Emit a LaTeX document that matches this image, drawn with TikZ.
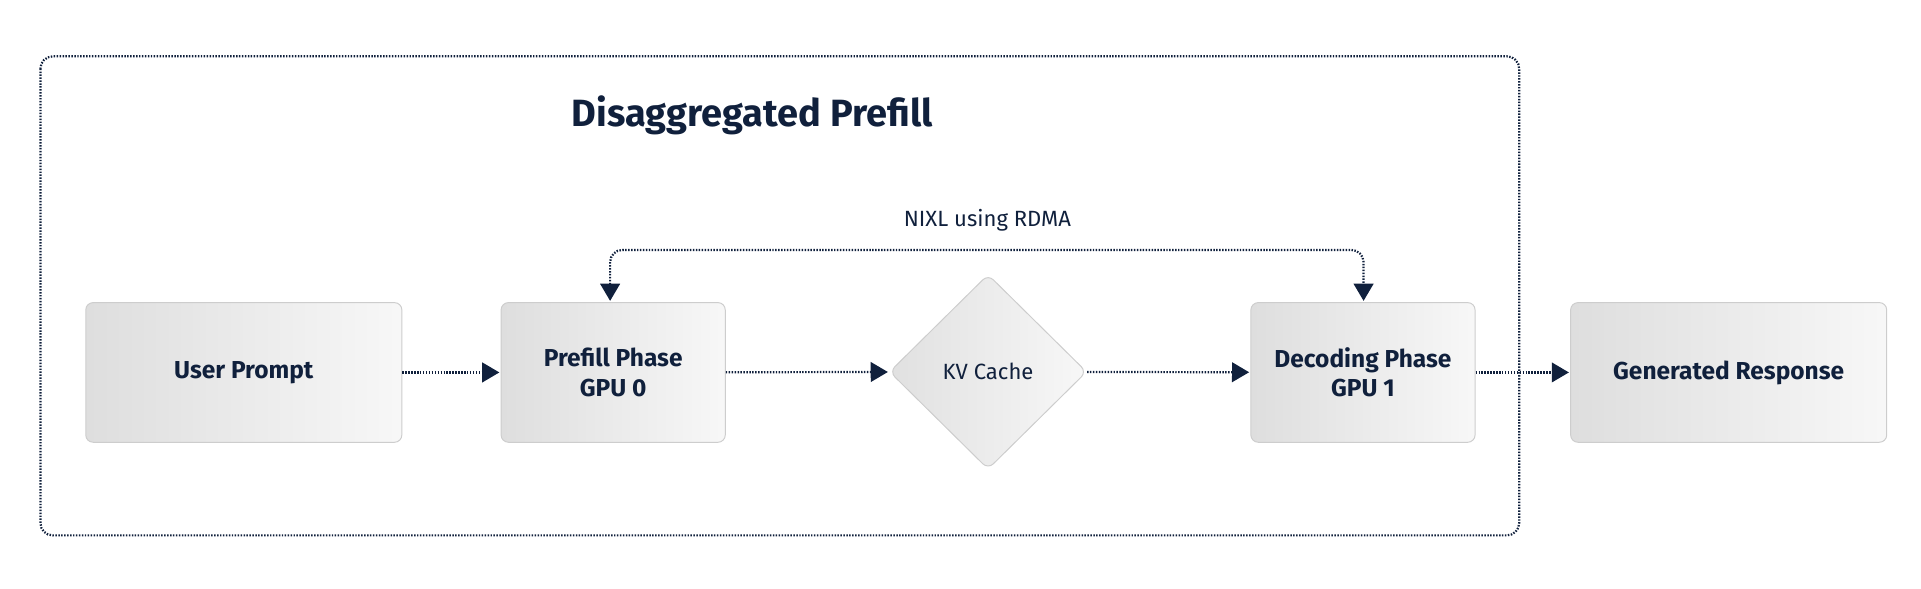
\documentclass[tikz,border=0pt]{standalone}
\usepackage{fontspec}
\setmainfont{Fira Sans}
\usetikzlibrary{positioning,arrows.meta,shapes.geometric}
\definecolor{navy}{RGB}{16,32,60}
\definecolor{boxLine}{RGB}{205,205,205}
\tikzset{
    every picture/.style={
        line width=0.4pt
    },
    % Style for the phase boxes
    phase box/.style={
        draw=boxLine,
        rounded corners=3pt,
        left color=black!13,
        right color=black!3,
        minimum height=57pt,
        align=center,
        text=navy,
        font=\fontsize{10}{12}\selectfont\bfseries
    },
    % Style for the cache diamond
    cache shape/.style={
        diamond,
        draw=boxLine,
        rounded corners=3pt,
        left color=black!12,
        right color=black!3,
        minimum width=80.5pt,
        minimum height=79.5pt,
        inner sep=0pt,
        text=navy,
        font=\fontsize{9}{10}\selectfont
    },
    % Dotted connector style
    flow line/.style={
        navy,
        line width=0.9pt,
        dash pattern=on 0.6pt off 0.6pt,
        -{Triangle[length=7pt,width=8pt]},
        shorten >=0.5pt
    }
}
\begin{document}
\begin{tikzpicture}[x=0.5pt,y=-0.5pt]

% Set the canvas size
\path[use as bounding box] (0,0) rectangle (1568,480);

% Outer frame
\draw[navy, line width=0.9pt, dash pattern=on 0.6pt off 0.6pt, rounded corners=5pt] (33,46) rectangle (1240,437);
\node[text=navy, font=\fontsize{15.5}{18}\selectfont\bfseries] (title) at (614,94) {Disaggregated Prefill};

% Nodes
\node[phase box, minimum width=129pt] (prompt) at (199,304) {User Prompt};
\node[phase box, minimum width=91.5pt] (prefill) at (500.5,304) {Prefill Phase\\GPU 0};
\node[cache shape] (cache) at (806.5,303.5) {KV Cache};
\node[phase box, minimum width=91.5pt] (decode) at (1112.5,304) {Decoding Phase\\GPU 1};
\node[phase box, minimum width=129pt] (response) at (1411,304) {Generated Response};

% Main flow
\draw[flow line] (prompt) -- (prefill);
\draw[flow line] (prefill) -- (cache);
\draw[flow line] (cache) -- (decode);
\draw[flow line] (decode) -- (response);

% Transfer loop
\coordinate (loopL) at (498,204);
\coordinate (loopR) at (1113,204);
\draw[flow line, {Triangle[length=7pt,width=8pt]}-{Triangle[length=7pt,width=8pt]}, shorten <=0.5pt, rounded corners=5pt]
    (prefill.north -| loopL) -- (loopL) -- (loopR) -- (decode.north -| loopR);
\node[text=navy, font=\fontsize{9}{10}\selectfont] (nixl) at (806,180) {NIXL using RDMA};

\end{tikzpicture}
\end{document}
